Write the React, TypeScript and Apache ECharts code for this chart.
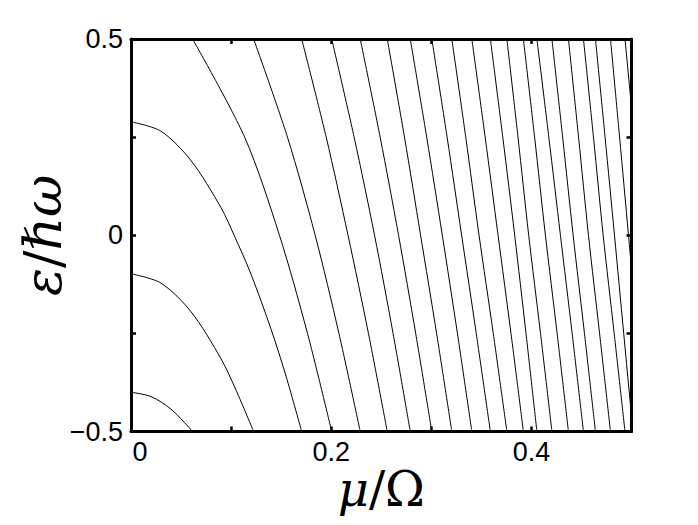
import React, { useEffect, useRef } from "react";
import * as echarts from "echarts";

// μ/Ω where each branch meets the top edge ε/ħω = 0.5 (and, by continuity, the bottom edge)
const topCrossMu = [0.0615, 0.1225, 0.1705, 0.2005, 0.229, 0.256, 0.279, 0.3005, 0.3205, 0.3405, 0.359, 0.3755, 0.392, 0.4055, 0.4205, 0.437, 0.452, 0.464, 0.479, 0.4935];
// μ/Ω where each top-entering branch crosses ε/ħω = 0.25
const upperQuarterMu = [0.1135, 0.1563, 0.195, 0.2229, 0.2489, 0.2732, 0.2954, 0.3158, 0.3344, 0.3538, 0.3714, 0.3866, 0.4032, 0.4174, 0.4312, 0.4471, 0.462, 0.4736, 0.4881];
// μ/Ω where each branch crosses ε/ħω = 0
const zeroCrossMu = [0.1483, 0.184, 0.2168, 0.2433, 0.2673, 0.2893, 0.311, 0.3303, 0.3477, 0.3667, 0.3833, 0.3973, 0.414, 0.429, 0.4417, 0.457, 0.4717, 0.483, 0.497];
// μ/Ω where each branch crosses ε/ħω = -0.25
const lowerQuarterMu = [0.1763, 0.2077, 0.2372, 0.2618, 0.2844, 0.3053, 0.3261, 0.3449, 0.3619, 0.3796, 0.3946, 0.4091, 0.4257, 0.4407, 0.453, 0.4681, 0.4827, 0.4922];
// ε/ħω where the last three branches leave through the right edge μ/Ω = 0.5
const rightEdgeEps = [-0.46, -0.085, 0.326];

// the three levels that start on the left edge (μ/Ω = 0)
const curveFromUpper = [[0, 0.289], [0.03, 0.265], [0.06, 0.19], [0.09, 0.07], [0.103, 0], [0.12, -0.1], [0.14, -0.24], [0.155, -0.36], [0.1705, -0.5]];
const curveFromMiddle = [[0, -0.098], [0.03, -0.122], [0.06, -0.195], [0.09, -0.315], [0.105, -0.395], [0.1225, -0.5]];
const curveFromLower = [[0, -0.4], [0.02, -0.411], [0.04, -0.443], [0.0615, -0.5]];

const xTicks = [0, 0.1, 0.2, 0.3, 0.4, 0.5];
const xTickLabels = ["{z|0}", "", "0.2", "", "0.4", ""];
const yTicks = [-0.5, -0.25, 0, 0.25, 0.5];
const yTickLabels = ["\u22120.5", "", "0", "", "0.5"];

function buildBranches(): number[][][] {
  const out: number[][][] = [curveFromUpper, curveFromMiddle, curveFromLower];
  for (let i = 0; i < topCrossMu.length; i++) {
    const pts: number[][] = [[topCrossMu[i], 0.5]];
    if (upperQuarterMu[i] !== undefined) pts.push([upperQuarterMu[i], 0.25]);
    if (zeroCrossMu[i] !== undefined) pts.push([zeroCrossMu[i], 0]);
    if (lowerQuarterMu[i] !== undefined) pts.push([lowerQuarterMu[i], -0.25]);
    if (topCrossMu[i + 3] !== undefined) pts.push([topCrossMu[i + 3], -0.5]);
    else pts.push([0.5, rightEdgeEps[i - 17]]);
    out.push(pts);
  }
  return out;
}

function labelFor(ticks: number[], labels: string[]) {
  return (v: number) => {
    const k = ticks.findIndex((t) => Math.abs(t - v) < 1e-6);
    return k >= 0 ? labels[k] : "";
  };
}

export default function App() {
  const ref = useRef<HTMLDivElement>(null);
  useEffect(() => {
    document.body.style.margin = "0";
    if (!ref.current) return;
    const chart = echarts.init(ref.current, null, { renderer: "svg" });
    const axisLine = { show: true, onZero: false, lineStyle: { color: "#000", width: 3 } };
    const axisTick = { show: true, inside: true, length: 5, lineStyle: { color: "#000", width: 2.5 } };
    const sans = "Liberation Sans, Arial, sans-serif";
    const tickFont = { color: "#000", fontSize: 27, fontFamily: sans };
    const serif = "DejaVu Serif, serif";
    const branches = buildBranches();
    chart.setOption({
      animation: false,
      backgroundColor: "#fff",
      grid: { left: 131, right: 66.5, top: 39, bottom: 93.5 },
      xAxis: [
        {
          type: "value", min: 0, max: 0.5, interval: 0.1, position: "bottom",
          axisLine, axisTick, splitLine: { show: false },
          axisLabel: {
            ...tickFont, margin: 7, formatter: labelFor(xTicks, xTickLabels),
            rich: { z: { color: "#000", fontSize: 27, fontFamily: sans, padding: [0, 0, 0, 18] } },
          },
          name: "{i|\u03bc}{n|/\u03a9}", nameLocation: "middle", nameGap: 33, nameMoveOverlap: false,
          nameTextStyle: {
            rich: {
              i: { fontFamily: serif, fontStyle: "italic", fontSize: 48, color: "#000" },
              n: { fontFamily: serif, fontSize: 48, color: "#000" },
            },
          },
        },
        {
          type: "value", min: 0, max: 0.5, interval: 0.1, position: "top",
          axisLine, axisTick, splitLine: { show: false }, axisLabel: { show: false },
        },
      ],
      yAxis: [
        {
          type: "value", min: -0.5, max: 0.5, interval: 0.25, position: "left",
          axisLine, axisTick, splitLine: { show: false },
          axisLabel: { ...tickFont, margin: 8, formatter: labelFor(yTicks, yTickLabels) },
          name: "{i|\u03b5}{n|/}{i|\u210f\u03c9}", nameLocation: "middle", nameGap: 62, nameRotate: 90, nameMoveOverlap: false,
          nameTextStyle: {
            rich: {
              i: { fontFamily: serif, fontStyle: "italic", fontSize: 52, color: "#000" },
              n: { fontFamily: serif, fontSize: 52, color: "#000" },
            },
          },
        },
        {
          type: "value", min: -0.5, max: 0.5, interval: 0.25, position: "right",
          axisLine, axisTick, splitLine: { show: false }, axisLabel: { show: false },
        },
      ],
      series: branches.map((pts) => ({
        type: "line",
        data: pts,
        smooth: 0.3,
        showSymbol: false,
        silent: true,
        clip: true,
        lineStyle: { color: "#000", width: 1 },
      })),
    });
    return () => chart.dispose();
  }, []);
  return <div ref={ref} style={{ width: 698, height: 525 }} />;
}
